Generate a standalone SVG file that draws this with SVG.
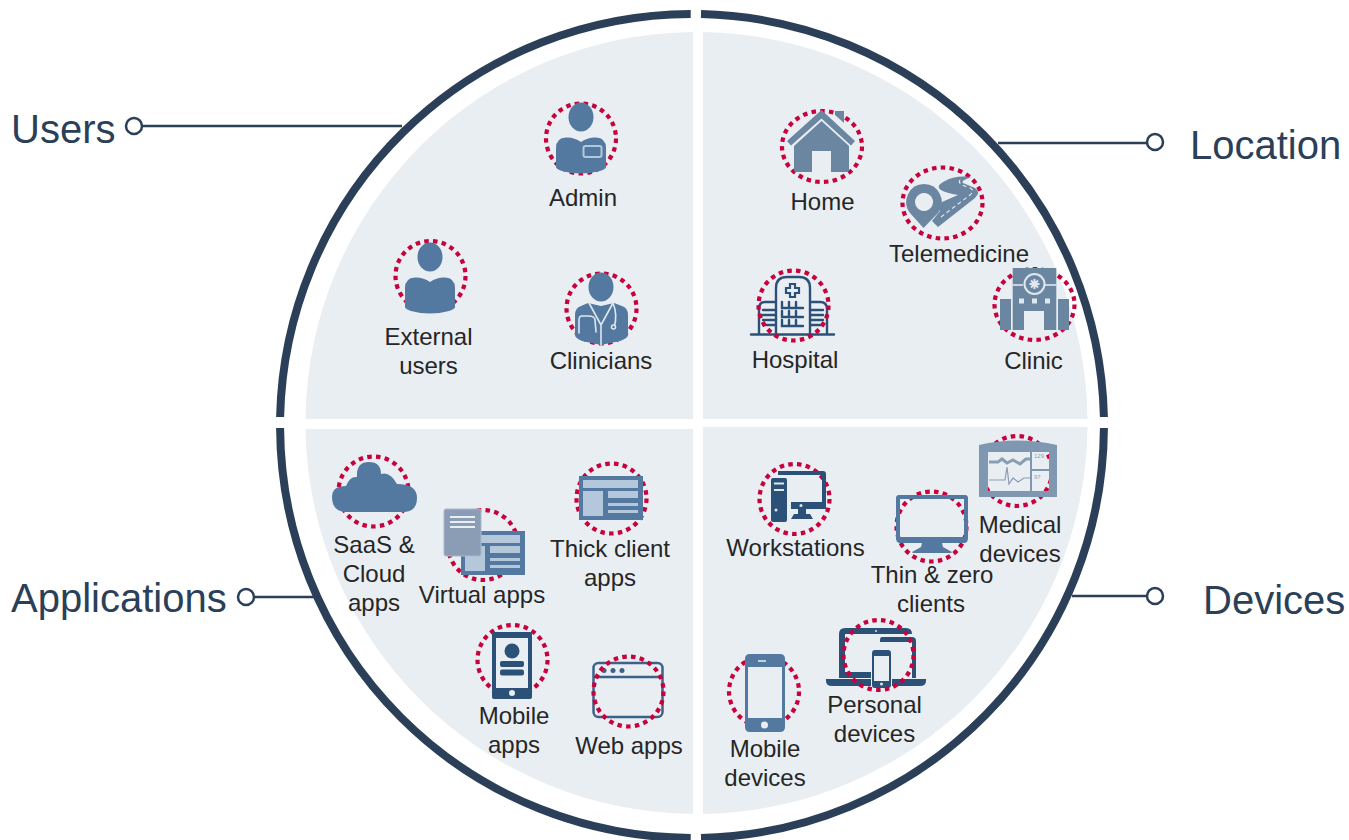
<svg xmlns="http://www.w3.org/2000/svg" width="1349" height="840" viewBox="0 0 1349 840">
<style>
text{font-family:"Liberation Sans",Arial,sans-serif}
.l{font-size:24px;fill:#262626;text-anchor:middle}
.t{font-size:40px;fill:#2b3f58}
.d{fill:none;stroke:#c8003c;stroke-width:4.200;stroke-dasharray:4.500 4.300}
.r{fill:none;stroke:#2b3f58;stroke-width:8}
.p{fill:#e9eef3}
.c{fill:none;stroke:#2b3f58;stroke-width:2.500}
.o{fill:#fff;stroke:#2b3f58;stroke-width:2.500}
.b{fill:#5379a0}
.g{fill:#6b86a1}
.n{fill:#2c5178}
.h{fill:none;stroke:#2c5178;stroke-width:2.400;stroke-linecap:round}
.w{fill:none;stroke:#dfe7ef;stroke-width:1.600;stroke-linecap:round}
.s{fill:#b5c7da}
</style>
<defs>
<g id="person"><ellipse cx="0" cy="0" rx="12.500" ry="14.500" class="b"/><path class="b" d="M-25,50V31Q-25,21-15,20.500Q-7,20 0,25Q7,20 15,20.500Q25,21 25,31V50Q25,52 19,54Q0,59-19,54Q-25,52-25,50Z"/></g>
<g id="appwin"><rect width="64" height="44" class="b"/><rect x="4" y="4" width="55" height="8" class="s"/><rect x="4" y="15" width="20" height="25" class="s"/><rect x="29" y="15" width="30" height="7" class="s"/><rect x="29" y="27" width="30" height="3" class="s"/><rect x="29" y="34" width="30" height="3" class="s"/></g>
</defs>
<g id="panels">
<path class="p" d="M693,419H305.500A391,391 0 0 1 693,32Z"/>
<path class="p" d="M703,419H1087.500A391,391 0 0 0 703,32Z"/>
<path class="p" d="M693,429H305.500A391,391 0 0 0 693,814Z"/>
<path class="p" d="M703,427H1087.500A391,391 0 0 1 703,814Z"/>
</g>
<g id="ring">
<path class="r" d="M690.700,14A412,412 0 0 0 280.100,417"/>
<path class="r" d="M701,14.100A412,412 0 0 1 1103.900,417"/>
<path class="r" d="M280.100,428A412,412 0 0 0 690.700,838"/>
<path class="r" d="M701,837.900A412,412 0 0 0 1103.900,428"/>
</g>
<g id="connectors">
<path class="c" d="M142,126H402"/><circle class="o" cx="134" cy="126" r="8"/>
<path class="c" d="M998,143H1147"/><circle class="o" cx="1155" cy="142" r="8"/>
<path class="c" d="M254,597H315"/><circle class="o" cx="246" cy="597" r="8"/>
<path class="c" d="M1072,596H1147"/><circle class="o" cx="1155" cy="596" r="8"/>
</g>
<g id="titles">
<text class="t" x="11" y="143">Users</text>
<text class="t" x="1190" y="159">Location</text>
<text class="t" x="11" y="612">Applications</text>
<text class="t" x="1203" y="614">Devices</text>
</g>
<g id="admin"><circle class="d" cx="581" cy="138.500" r="35"/><use href="#person" x="581" y="117"/><rect x="583.500" y="146" width="18" height="11" rx="2" fill="none" stroke="#b5c7da" stroke-width="2"/><text class="l" x="583" y="206">Admin</text></g>
<g id="external"><circle class="d" cx="430.500" cy="276" r="35"/><use href="#person" x="430" y="257"/><text class="l" x="428.500" y="345">External</text><text class="l" x="428.500" y="374">users</text></g>
<g id="clinicians"><circle class="d" cx="601.500" cy="308.500" r="35"/><ellipse cx="601" cy="287" rx="12.500" ry="14.500" class="b"/><path class="b" d="M575,335V315Q575,308 581,306L588,303L601,306L614,303L622,306Q628,308 628,315V335Q628,338 620,341L601,345L582,341Q575,338 575,335Z"/><path class="w" d="M589,303L601,325L613,303M601,325V345M588,316H582Q579,316 579,320V333M588,316Q595,316 595,320L596,332M613,303Q618,315 614,328"/><circle cx="613.500" cy="327" r="2" fill="#5379a0" stroke="#dfe7ef" stroke-width="1.500"/><text class="l" x="601" y="369">Clinicians</text></g>
<g id="home"><ellipse class="d" cx="822" cy="146.500" rx="40" ry="35.500"/><path class="g" d="M835,111h9v12l-9,-8Z"/><path class="g" d="M787,141L821.500,110L855,141L851,145.500L821.500,118.500L791,145.500Z"/><path class="g" d="M794,146L821.500,121L849,146V170Q849,172 847,172H831V151H812V172H796Q794,172 794,170Z"/><text class="l" x="822.500" y="210">Home</text></g>
<g id="telemedicine"><ellipse class="d" cx="942.500" cy="203" rx="40" ry="35.500"/><path class="g" fill-rule="evenodd" d="M924,184A18,18 0 0 1 938,213L923.500,228L910,213A18,18 0 0 1 924,184ZM924,193A9,9 0 1 0 924.100,193Z"/><path class="g" d="M932,221L938,227L975,198Q981,192 975,188L963,183Q960,181 971,177Q955,175 945,181Q935,186 941,190Q946,193 958,195L942,202Q938,205 940,211Z"/><path d="M941,217L970,195Q976,190 968,187Q957,184 960,180" fill="none" stroke="#e9eef3" stroke-width="1.100" stroke-dasharray="4 3"/><text class="l" x="959" y="262">Telemedicine</text></g>
<g id="hospital"><path class="h" d="M751,334.500H834M776,334V288Q776,277 787,277H799Q810,277 810,288V334M759,334V309Q759,302 765,302H776M810,302H820Q827,302 827,309V334"/><path fill="none" stroke="#2c5178" stroke-width="2.200" d="M790,284h5v4h4v5h-4v4h-5v-4h-4v-5h4Z"/><path class="h" d="M782,302v6h6M789,302v6h6M796,302v6h7M782,311v6h6M789,311v6h6M796,311v6h7M782,320v6h6M789,320v6h6M796,320v6h7" stroke-width="1.800"/><path class="h" d="M763,310h12M763,315h12M763,320h12M763,325h12M811,310h12M811,315h12M811,320h12M811,325h12" stroke-width="2.800" stroke="#5379a0" stroke-linecap="butt"/><circle class="d" cx="793.500" cy="305.500" r="35"/><text class="l" x="795" y="368">Hospital</text></g>
<g id="clinic"><ellipse class="d" cx="1034.500" cy="304.500" rx="40" ry="35.500"/><path class="g" fill-rule="evenodd" d="M1012.700,268H1056.300V330H1044V311H1024V330H1012.700Z"/><path class="g" d="M1000,299h11v31h-11ZM1058,299h11v31h-11Z"/><path d="M1012.700,285H1023M1045,285H1056.300" stroke="#e9eef3" stroke-width="1.500"/><circle cx="1034.500" cy="284" r="10" fill="#6b86a1" stroke="#dfe7ef" stroke-width="2"/><path d="M1034.500,279v10M1029.500,284h10M1031,280.500l7,7M1038,280.500l-7,7" stroke="#dfe7ef" stroke-width="2"/><path fill="#dfe7ef" d="M1019,298.500h5v5h-5ZM1032,298.500h5v5h-5ZM1045,298.500h5v5h-5Z"/><text class="l" x="1033.500" y="369">Clinic</text></g>
<g id="saas"><circle class="d" cx="373.500" cy="491.500" r="35"/><path class="b" d="M347,512Q332,512 332,497Q332,486 346,486Q350,476 357,477Q356,462 369,462Q381,462 381,474Q390,471 397,484Q417,484 417,498Q417,512 403,512Z"/><text class="l" x="374" y="553">SaaS &amp;</text><text class="l" x="374" y="582">Cloud</text><text class="l" x="374" y="611">apps</text></g>
<g id="virtual"><circle class="d" cx="483" cy="545" r="35"/><use href="#appwin" x="461" y="531"/><rect x="444" y="509" width="37" height="47" rx="2" fill="#8a9db5" stroke="#a9b9ca"/><path d="M450,517h25M450,522h25M450,527h25" stroke="#e9eef3" stroke-width="1.800"/><text class="l" x="482" y="603">Virtual apps</text></g>
<g id="thick"><circle class="d" cx="611.500" cy="498.500" r="35"/><use href="#appwin" x="579" y="476"/><text class="l" x="610" y="557">Thick client</text><text class="l" x="610" y="586">apps</text></g>
<g id="mobileapps"><circle class="d" cx="512.500" cy="660" r="35"/><rect class="n" x="492" y="632" width="40" height="67" rx="2"/><rect x="496" y="638" width="32" height="50" fill="#e9eef3"/><circle class="n" cx="512" cy="651" r="7.500"/><rect class="n" x="500" y="661" width="24" height="6" rx="2"/><rect class="n" x="500" y="669.500" width="24" height="6" rx="2"/><circle cx="512" cy="693" r="3" fill="#e9eef3"/><text class="l" x="514" y="724">Mobile</text><text class="l" x="514" y="753">apps</text></g>
<g id="webapps"><rect x="593.500" y="663" width="69" height="54" rx="5" fill="none" stroke="#3d6288" stroke-width="2.500"/><path d="M593.500,677H662.500" stroke="#3d6288" stroke-width="2.500"/><circle cx="604" cy="670.500" r="2.500" fill="#3d6288"/><circle cx="613" cy="670.500" r="2.500" fill="#3d6288"/><circle cx="622" cy="670.500" r="2.500" fill="#3d6288"/><circle class="d" cx="628.500" cy="691.500" r="35"/><text class="l" x="629" y="754">Web apps</text></g>
<g id="workstations"><circle class="d" cx="794.500" cy="499" r="35"/><path class="n" d="M778,471H823Q826,471 826,474V509H791V502H822V475H778Z"/><path class="n" d="M798,509h8v5h4l3,5H791l3,-5h4Z"/><rect class="n" x="771" y="478" width="16" height="44" rx="2"/><path d="M774,483.500h10M774,490h10" stroke="#dfe7ef" stroke-width="2"/><circle cx="776" cy="510" r="1.500" fill="#dfe7ef"/><circle cx="801" cy="505.500" r="1.500" fill="#dfe7ef"/><text class="l" x="795.500" y="556">Workstations</text></g>
<g id="thin"><circle class="d" cx="931.500" cy="526.500" r="35"/><path class="b" fill-rule="evenodd" d="M899,495H965Q968,495 968,498V538Q968,543 964,543H900Q896,543 896,538V498Q896,495 899,495ZM900,499V537H964V499Z"/><path class="b" d="M922,543h20l1,4l9,5q0,1-2,1H914q-2,0-2,-1l9,-5Z"/><text class="l" x="932" y="583">Thin &amp; zero</text><text class="l" x="931" y="612">clients</text></g>
<g id="medical"><circle class="d" cx="1017" cy="471" r="35"/><path fill="#7f97b0" fill-rule="evenodd" d="M979,445Q1017,436 1057,445V497H979ZM988,452V491H1030V452ZM1032,452V469H1049V452ZM1032,471V491H1049V471Z"/><path d="M989,462H998L1002,459L1007,463L1013,460L1020,464L1026,459H1030" fill="none" stroke="#8a9db5" stroke-width="3"/><path d="M989,480H1003L1005,480L1007,467L1009,484L1013,478L1018,482L1024,478H1030" fill="none" stroke="#8a9db5" stroke-width="1.200"/><text x="1034" y="458" font-size="6" fill="#8a9db5">129</text><text x="1034" y="479" font-size="6" fill="#8a9db5">97</text><text class="l" x="1020" y="533">Medical</text><text class="l" x="1020" y="562">devices</text></g>
<g id="personal"><path class="n" d="M839,678V634Q839,628 845,628H906Q912,628 912,634H845V672H871V678Z"/><path class="n" d="M882,637H912Q916,637 916,641V678H912V642H880V640Q880,637 882,637Z"/><path class="n" d="M826,679H871V686H832Q826,686 826,681ZM892,679H926V681Q926,686 920,686H892Z"/><rect x="873" y="651" width="17" height="36" rx="2" fill="#e9eef3" stroke="#2c5178" stroke-width="2"/><path class="n" d="M873,681h17v6h-17ZM873,651h17v5h-17Z"/><circle cx="881.500" cy="684" r="1.500" fill="#dfe7ef"/><circle cx="876" cy="631" r="1" fill="#dfe7ef"/><circle class="d" cx="878.500" cy="655" r="35"/><text class="l" x="874.500" y="713">Personal</text><text class="l" x="874.500" y="742">devices</text></g>
<g id="mobiledevices"><circle class="d" cx="764" cy="691.500" r="35"/><path class="b" fill-rule="evenodd" d="M750,654H780Q785,654 785,659V727Q785,732 780,732H750Q745,732 745,727V659Q745,654 750,654ZM748,667V718H782V667Z"/><path d="M758,661h8" stroke="#e9eef3" stroke-width="1.500"/><circle cx="764.500" cy="725" r="3.500" fill="#e9eef3"/><text class="l" x="765" y="757">Mobile</text><text class="l" x="765" y="786">devices</text></g>
</svg>
